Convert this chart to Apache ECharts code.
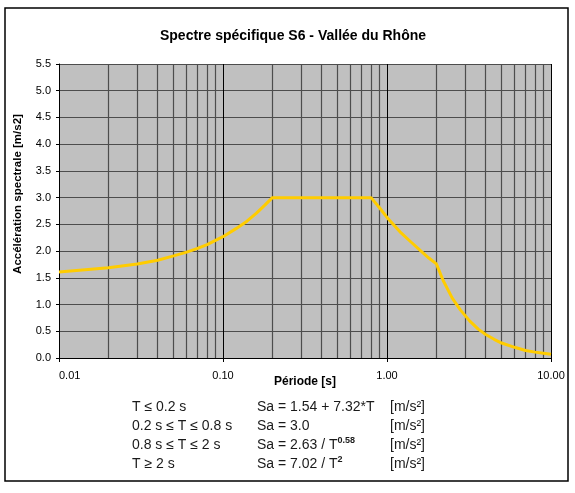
<!DOCTYPE html>
<html>
<head>
<meta charset="utf-8">
<script src="https://cdn.jsdelivr.net/npm/echarts@6/dist/echarts.min.js"></script>
<style>
  * { margin: 0; padding: 0; }
  body { background: #fff; }
</style>
</head>
<body>
<div id="main" style="width:575px;height:493px;"></div>
<script>
  // periode T [s] et acceleration spectrale Sa [m/s2]
  var periods = [0.01, 0.02, 0.03, 0.04, 0.05, 0.06, 0.07, 0.08, 0.09, 0.1, 0.12, 0.14, 0.16, 0.18, 0.2,
                 0.3, 0.5, 0.8, 0.9, 1.0, 1.2, 1.4, 1.6, 1.8, 2.0,
                 2.2, 2.5, 2.8, 3.2, 3.6, 4, 4.5, 5, 6, 7, 8, 9, 10];
  var accel = [1.61, 1.69, 1.76, 1.83, 1.91, 1.98, 2.05, 2.12, 2.20, 2.27, 2.42, 2.56, 2.71, 2.86, 3.0,
               3.0, 3.0, 3.0, 2.81, 2.63, 2.36, 2.17, 2.01, 1.87, 1.76,
               1.45, 1.12, 0.90, 0.69, 0.54, 0.44, 0.35, 0.28, 0.20, 0.14, 0.11, 0.09, 0.07];
  // lignes secondaires verticales (2..9 dans chaque decade)
  var minorT = [0.02, 0.03, 0.04, 0.05, 0.06, 0.07, 0.08, 0.09,
                0.2, 0.3, 0.4, 0.5, 0.6, 0.7, 0.8, 0.9,
                2, 3, 4, 5, 6, 7, 8, 9];
  var xTickLabels = {0.01: '0.01', 0.1: '0.10', 1: '1.00', 10: '10.00'};
  var legendRows = [
    ['T \u2264 0.2 s', 'Sa = 1.54 + 7.32*T', ''],
    ['0.2 s \u2264 T \u2264 0.8 s', 'Sa = 3.0', ''],
    ['0.8 s \u2264 T \u2264 2 s', 'Sa = 2.63 / T', '0.58'],
    ['T \u2265 2 s', 'Sa = 7.02 / T', '2']
  ];

  var font = 'Liberation Sans, Arial, sans-serif';
  var chart = echarts.init(document.getElementById('main'));

  var pts = periods.map(function (t, i) { return [t, accel[i]]; });

  var graphics = [
    {type: 'rect', z: -10, shape: {x: 5, y: 8, width: 563, height: 473},
     style: {fill: '#fff', stroke: '#000', lineWidth: 1.5}},
    {type: 'text', x: 18, y: 194, rotation: Math.PI / 2,
     style: {text: 'Accélération spectrale [m/s2]', font: 'bold 11.5px ' + font, fill: '#000',
             align: 'center', verticalAlign: 'middle'}},
    {type: 'text', x: 305, y: 382,
     style: {text: 'Période [s]', font: 'bold 12px ' + font, fill: '#000',
             align: 'center', verticalAlign: 'middle'}}
  ];
  var rowY = [407, 426, 445, 464];
  legendRows.forEach(function (r, i) {
    graphics.push({type: 'text', x: 132, y: rowY[i],
      style: {text: r[0], font: '14px ' + font, fill: '#1a1a1a', verticalAlign: 'middle'}});
    graphics.push({type: 'text', x: 257, y: rowY[i],
      style: {text: r[1] + (r[2] ? '{s|' + r[2] + '}' : ''), font: '14px ' + font, fill: '#1a1a1a',
              verticalAlign: 'middle', lineHeight: 18,
              rich: {s: {fontSize: 9, fontWeight: 'bold', fontFamily: font, fill: '#1a1a1a',
                         verticalAlign: 'top', lineHeight: 10}}}});
    graphics.push({type: 'text', x: 390, y: rowY[i],
      style: {text: '[m/s²]', font: '14px ' + font, fill: '#1a1a1a', verticalAlign: 'middle'}});
  });

  chart.setOption({
    animation: false,
    backgroundColor: '#fff',
    title: {
      text: 'Spectre spécifique S6 - Vallée du Rhône',
      left: 288, top: 24, textAlign: 'center',
      textStyle: {fontFamily: font, fontSize: 14, fontWeight: 'bold', color: '#000'}
    },
    graphic: graphics,
    grid: {
      left: 59, right: 24, top: 64, bottom: 135,
      show: true, backgroundColor: '#c0c0c0', borderWidth: 0
    },
    xAxis: {
      type: 'log', logBase: 10, min: 0.01, max: 10,
      axisLine: {lineStyle: {color: '#000', width: 1}},
      axisTick: {show: true, length: 4, lineStyle: {color: '#000'}},
      splitLine: {show: true, lineStyle: {color: '#000', width: 1}},
      axisLabel: {
        fontFamily: font, fontSize: 11, color: '#000', margin: 12,
        alignMinLabel: 'left',
        formatter: function (v) { return xTickLabels[v] || xTickLabels[+v.toFixed(2)] || ''; }
      }
    },
    yAxis: {
      type: 'value', min: 0, max: 5.5, interval: 0.5,
      axisLine: {show: true, lineStyle: {color: '#000', width: 1}},
      axisTick: {show: true, length: 3, lineStyle: {color: '#000'}},
      splitLine: {show: true, lineStyle: {color: '#4d4d4d', width: 1.2}},
      axisLabel: {
        fontFamily: font, fontSize: 11, color: '#000', margin: 8,
        formatter: function (v) { return v.toFixed(1); }
      }
    },
    series: [
      {
        name: 'grille', type: 'line', data: [], z: 1, silent: true,
        markLine: {
          silent: true, symbol: ['none', 'none'], label: {show: false},
          lineStyle: {color: '#4d4d4d', width: 1.2, type: 'solid'},
          data: minorT.map(function (t) { return {xAxis: t}; })
        }
      },
      {
        name: 'Sa', type: 'line', data: pts, z: 5,
        showSymbol: false, symbol: 'none',
        lineStyle: {color: '#FFCC00', width: 3}
      }
    ]
  });
</script>
</body>
</html>
